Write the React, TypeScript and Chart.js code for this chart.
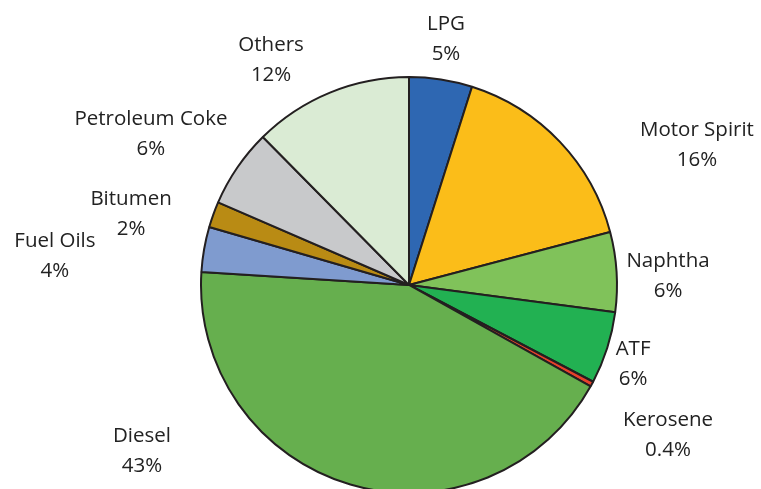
import React, { useEffect, useRef } from "react";
import { Chart, registerables } from "chart.js";

Chart.register(...registerables);

const categories = [
  "LPG",
  "Motor Spirit",
  "Naphtha",
  "ATF",
  "Kerosene",
  "Diesel",
  "Fuel Oils",
  "Bitumen",
  "Petroleum Coke",
  "Others",
];
const shares = [4.9, 16.0, 6.2, 5.6, 0.4, 42.9, 3.5, 2.0, 6.1, 12.4];
const percentLabels = ["5%", "16%", "6%", "6%", "0.4%", "43%", "4%", "2%", "6%", "12%"];
const sliceColors = [
  "#2E67B2",
  "#FBBD19",
  "#80C25A",
  "#22B152",
  "#E8412B",
  "#66AF4E",
  "#7F9BCF",
  "#B98B14",
  "#C8C9CB",
  "#DAEBD4",
];

// label placement: angle (deg, clockwise from top) and distance (x outer radius)
const labelAngles = [8.55, 64.1, 88.0, 109.4, 120.1, 238.1, 274.7, 284.3, 300.3, 328.5];
const labelRadii = [1.196, 1.539, 1.246, 1.142, 1.439, 1.512, 1.708, 1.379, 1.437, 1.269];

const labelPlugin = {
  id: "outerLabels",
  afterDatasetsDraw(chart: any) {
    const meta = chart.getDatasetMeta(0);
    const ctx = chart.ctx;
    ctx.save();
    ctx.font = "20.5px 'Open Sans'";
    ctx.fillStyle = "#222222";
    ctx.textAlign = "center";
    ctx.textBaseline = "middle";
    meta.data.forEach((arc: any, i: number) => {
      const { x, y, outerRadius } = arc.getProps(["x", "y", "outerRadius"], true);
      const a = (labelAngles[i] * Math.PI) / 180;
      const d = labelRadii[i] * outerRadius;
      const lx = x + Math.sin(a) * d;
      const ly = y - Math.cos(a) * d;
      ctx.fillText(categories[i], lx, ly - 15);
      ctx.fillText(percentLabels[i], lx, ly + 15);
    });
    ctx.restore();
  },
};

export default function App() {
  const ref = useRef<HTMLCanvasElement | null>(null);
  useEffect(() => {
    document.body.style.margin = "0";
    const canvas = ref.current!;
    const chart = new Chart(canvas, {
      type: "pie",
      data: {
        labels: categories,
        datasets: [
          {
            data: shares,
            backgroundColor: sliceColors,
            borderColor: "#231F20",
            borderWidth: 2,
          },
        ],
      },
      options: {
        responsive: false,
        animation: false,
        radius: 208,
        layout: { padding: { left: 57, top: 81, right: 0, bottom: 0 } },
        plugins: {
          legend: { display: false },
          tooltip: { enabled: false },
        },
      } as any,
      plugins: [labelPlugin],
    });
    return () => chart.destroy();
  }, []);
  return (
    <div style={{ width: 761, height: 489, background: "#fff" }}>
      <canvas ref={ref} width={761} height={489} style={{ display: "block" }} />
    </div>
  );
}
